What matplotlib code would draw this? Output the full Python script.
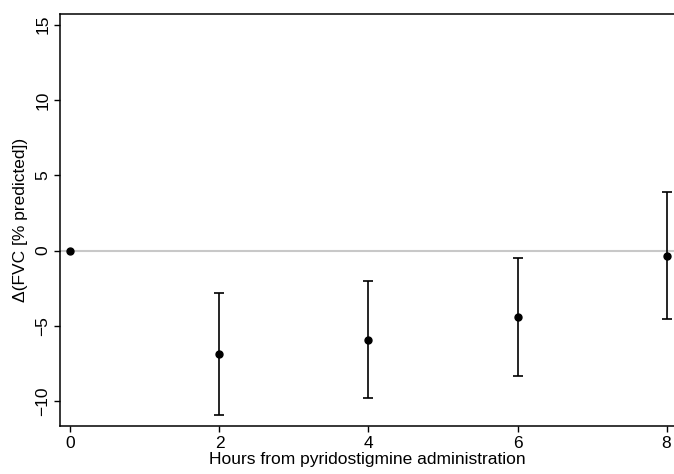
import matplotlib
matplotlib.use("Agg")
import matplotlib.pyplot as plt
import numpy as np

hours = [0, 2, 4, 6, 8]
delta_fvc = [0.0, -6.86, -5.9, -4.4, -0.33]
ci_low = [0.0, -10.9, -9.8, -8.3, -4.53]
ci_high = [0.0, -2.83, -1.99, -0.5, 3.87]

plt.rcParams["font.family"] = ["Liberation Sans", "DejaVu Sans"]
plt.rcParams["font.size"] = 12.5

fig = plt.figure(figsize=(6.74, 4.74), dpi=100)
ax = fig.add_axes([60 / 674, 48 / 474, 614 / 674, 412 / 474])

ax.axhline(0, color="#c8c8c8", linewidth=1.5, zorder=1)

x = np.array(hours[1:])
y = np.array(delta_fvc[1:])
lo = y - np.array(ci_low[1:])
hi = np.array(ci_high[1:]) - y
ax.errorbar(x, y, yerr=[lo, hi], fmt="none", ecolor="black",
            elinewidth=1.2, capsize=3.5, capthick=1.2, zorder=2)
ax.plot(hours, delta_fvc, "o", color="black", markersize=5, zorder=3)

ax.set_xlim(-0.14, 8.1)
ax.set_ylim(-11.63, 15.7)
ax.set_xticks([0, 2, 4, 6, 8])
ax.set_yticks([-10, -5, 0, 5, 10, 15])
for lbl in ax.get_yticklabels():
    lbl.set_rotation(90)
    lbl.set_va("center")

ax.tick_params(direction="out", length=4, width=1, color="black", pad=3)
ax.spines["right"].set_visible(False)
for s in ["left", "bottom", "top"]:
    ax.spines[s].set_linewidth(1.1)

ax.set_xlabel("Hours from pyridostigmine administration", labelpad=1)
ax.set_ylabel("Δ(FVC [% predicted])")
ax.yaxis.set_label_coords(-0.052, 0.5)

fig.savefig("out.png", dpi=100)
